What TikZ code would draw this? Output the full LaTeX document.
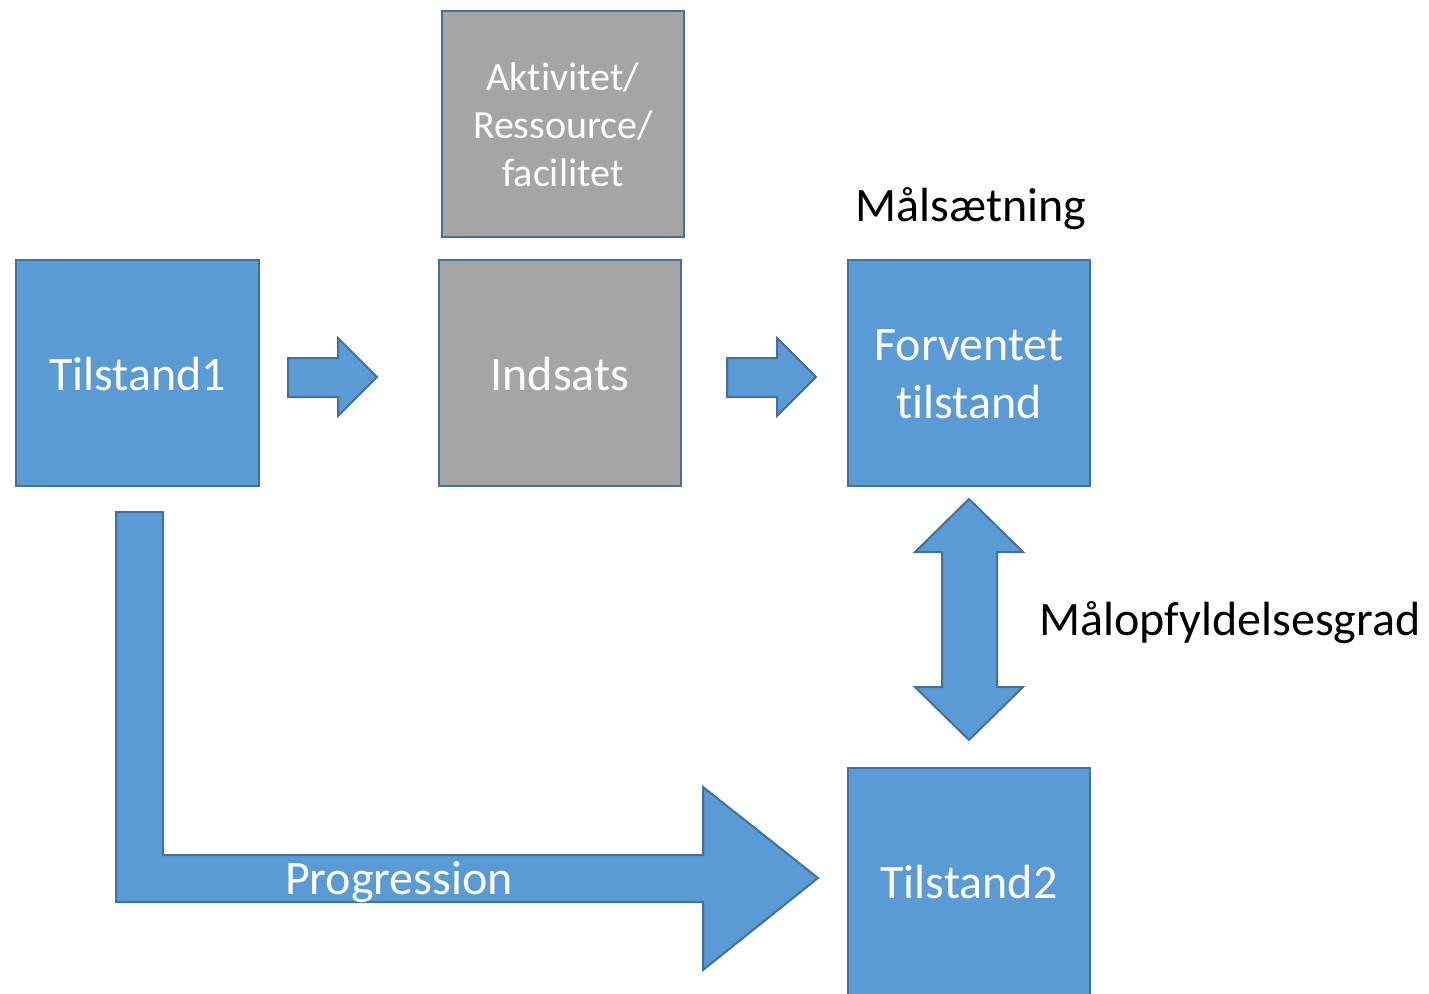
\documentclass[tikz,border=0pt]{standalone}
\usepackage{fontspec}
\setmainfont{Carlito}[Ligatures={NoCommon}]
\definecolor{bfill}{HTML}{5B9BD5}
\definecolor{bline}{HTML}{41719C}
\definecolor{gfill}{HTML}{A5A5A5}
\begin{document}
\begin{tikzpicture}[x=1pt,y=-1pt,
  bluebox/.style={draw=bline,fill=bfill,line width=2.5pt,text=white,align=center,inner sep=0pt},
  graybox/.style={draw=bline,fill=gfill,line width=2.5pt,text=white,align=center,inner sep=0pt},
  blockarrow/.style={draw=bline,fill=bfill,line width=2pt,line join=miter},
  big/.style={font=\fontsize{48}{58}\selectfont},
  small/.style={font=\fontsize{40}{48}\selectfont},
  lbl/.style={text=black,inner sep=0pt,font=\fontsize{48}{56}\selectfont}]
\useasboundingbox (0,0) rectangle (1429,993);
\clip (0,0) rectangle (1429,993);
% boxes
\draw[bluebox] (16,260) rectangle (259,486);
\node[big,text=white] (t1) at (137.5,374) {Tilstand1};
\draw[graybox] (442,11) rectangle (684,237);
\node[small,text=white,align=center] (akt) at (563,125) {Aktivitet/\\Ressource/\\facilitet};
\draw[graybox] (439,260) rectangle (681,486);
\node[big,text=white] (ind) at (560,374) {Indsats};
\draw[bluebox] (848,260) rectangle (1090,486);
\node[big,text=white,align=center] (forv) at (969,374) {Forventet\\tilstand};
\draw[bluebox] (848,768) rectangle (1090,1010);
\node[big,text=white] (t2) at (969,882) {Tilstand2};
% labels
\node[lbl] (mal) at (971,209) {Målsætning};
\node[lbl] (malop) at (1230,623) {Målopfyldelsesgrad};
% block arrows
\draw[blockarrow] (288,358) -- (338,358) -- (338,338) -- (377,377) -- (338,416) -- (338,397) -- (288,397) -- cycle;
\draw[blockarrow] (727,358) -- (777,358) -- (777,338) -- (816,377) -- (777,416) -- (777,397) -- (727,397) -- cycle;
\draw[blockarrow] (969,499) -- (1023,552) -- (997,552) -- (997,687) -- (1023,687) -- (969,740) -- (915,687) -- (942,687) -- (942,552) -- (915,552) -- cycle;
\draw[blockarrow] (116,512) -- (163,512) -- (163,855) -- (703,855) -- (703,787) -- (818,878) -- (703,970) -- (703,902) -- (116,902) -- cycle;
\node[big,text=white,inner sep=0pt] (prog) at (399,882) {Progression};
\end{tikzpicture}
\end{document}
